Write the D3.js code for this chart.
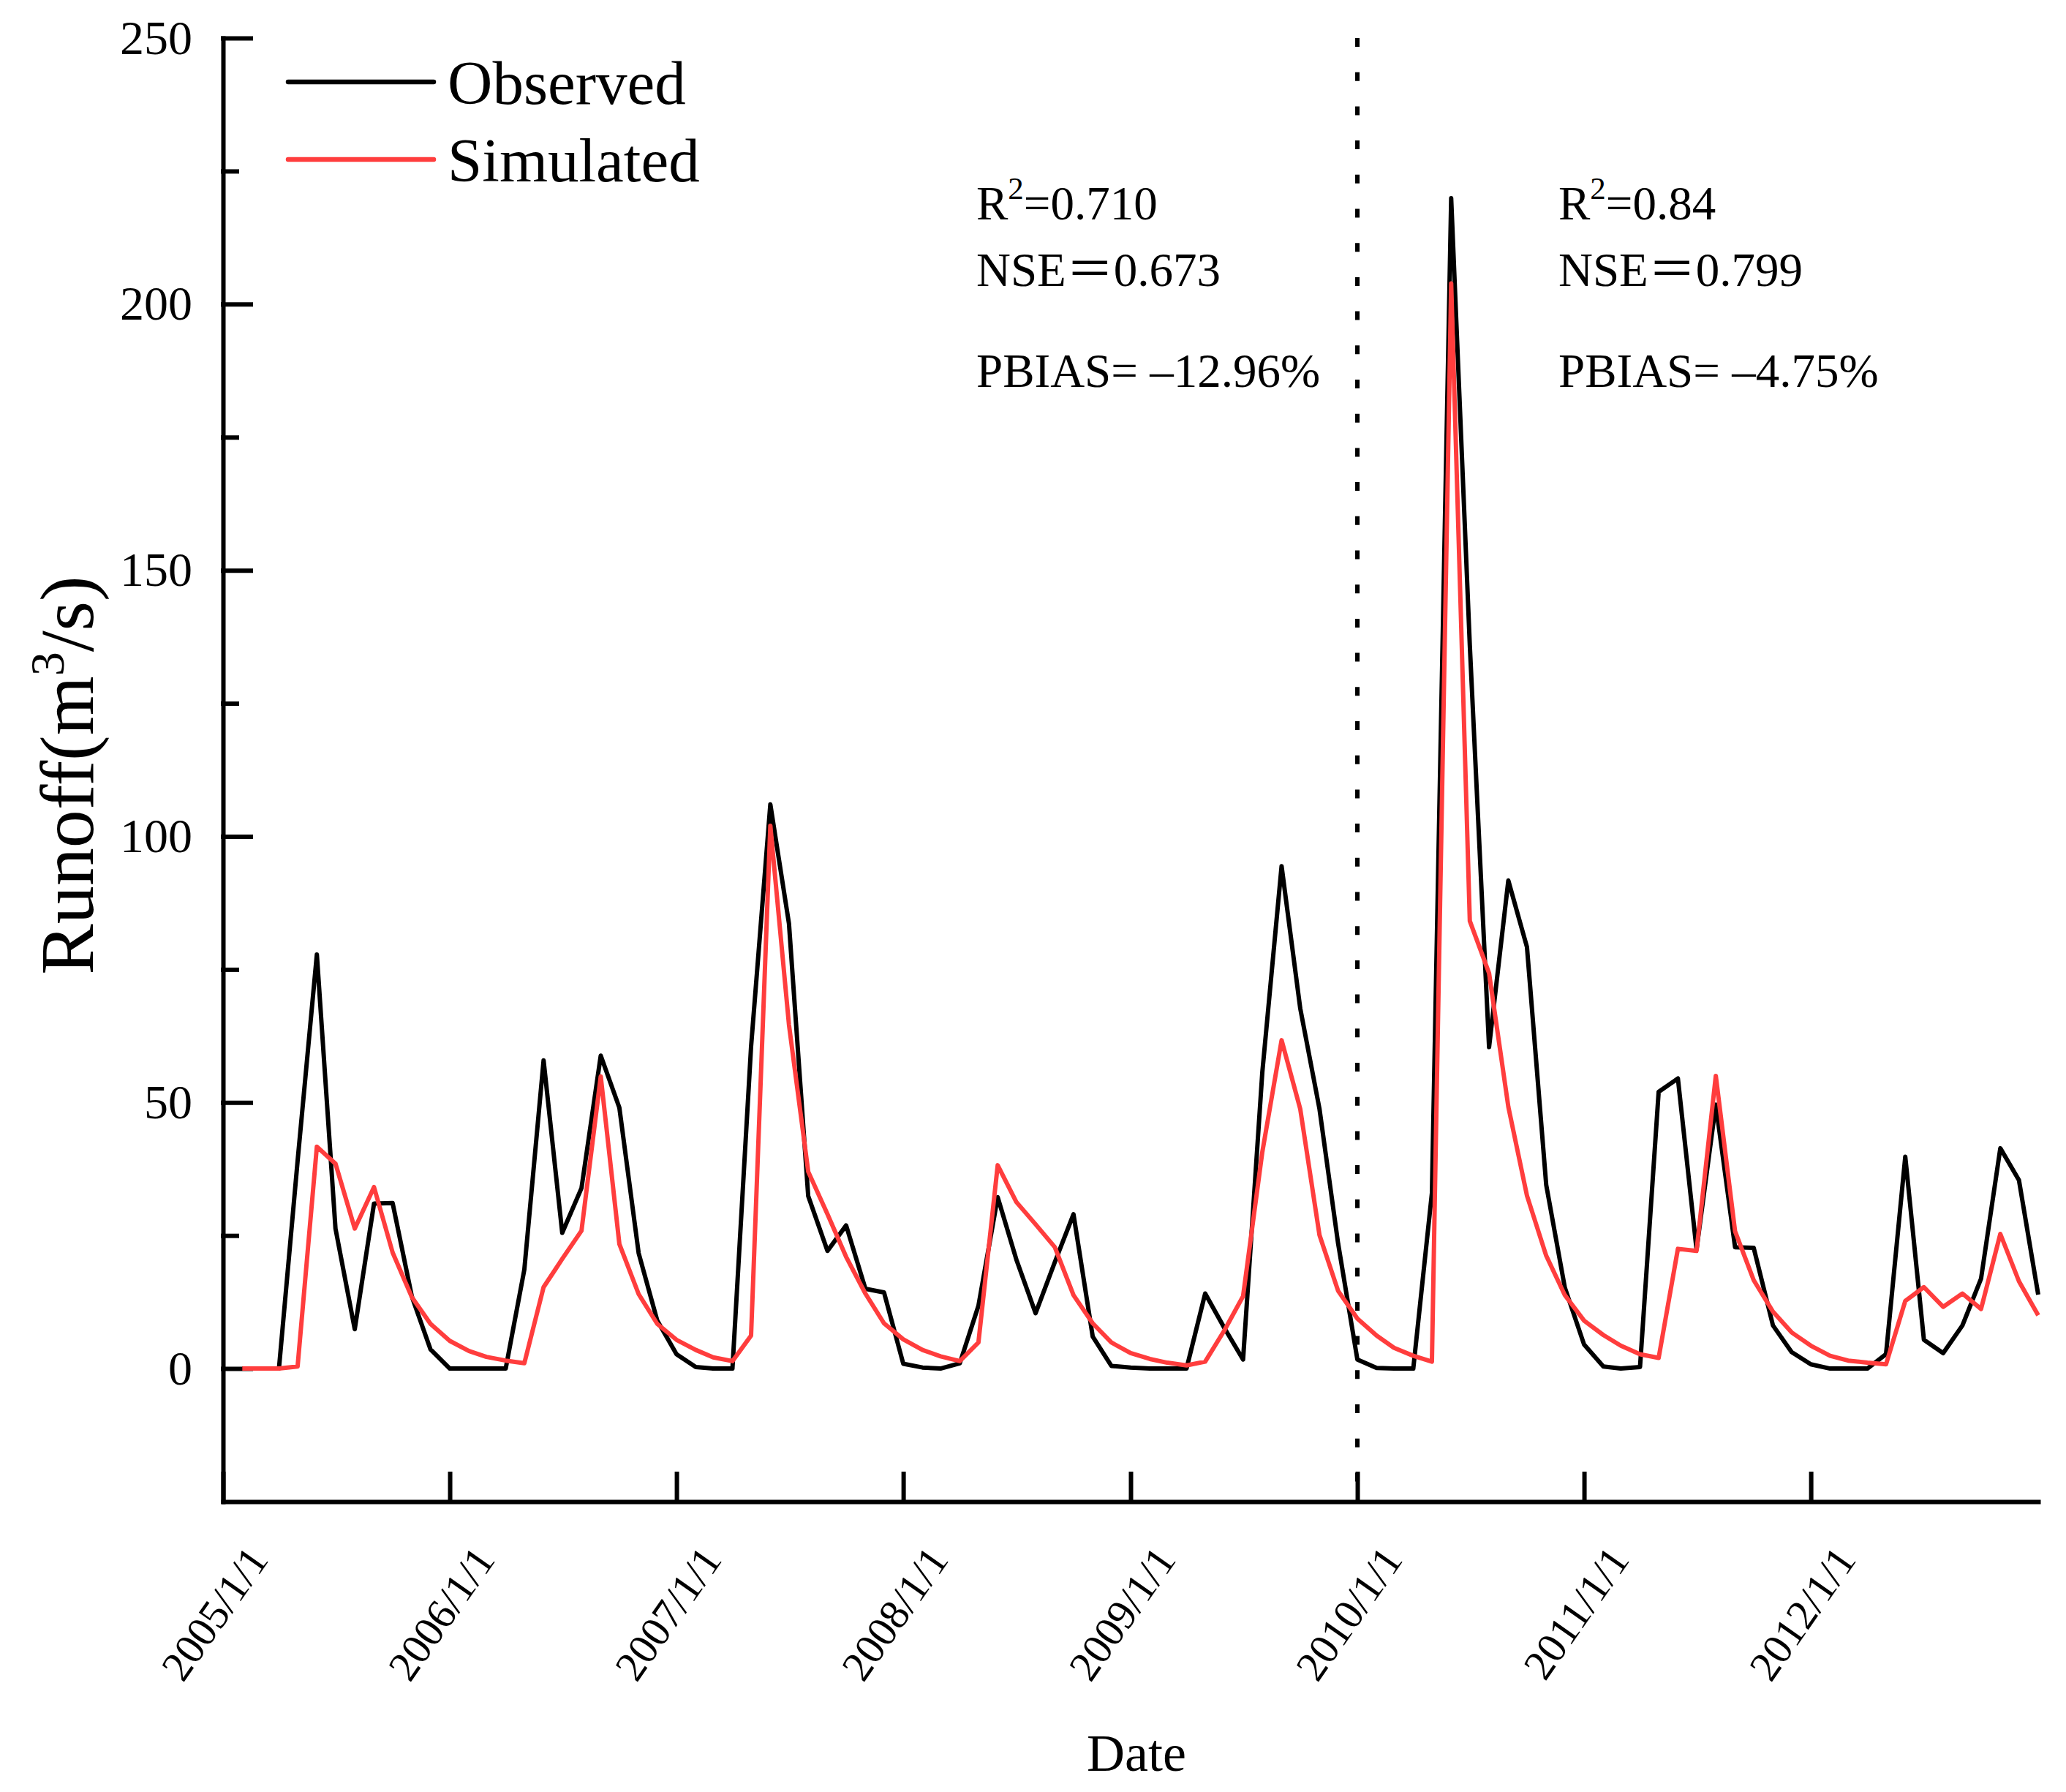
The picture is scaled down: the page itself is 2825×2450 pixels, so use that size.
<!DOCTYPE html>
<html>
<head>
<meta charset="utf-8">
<script src="https://cdn.jsdelivr.net/npm/d3@7"></script>
<style>
  body { margin: 0; background: #fff; }
  svg text { font-family: "Liberation Serif", "Times New Roman", "Noto Sans CJK SC", serif; fill: #000; }
</style>
</head>
<body>
<svg id="chart" width="2825" height="2450"></svg>
<script>
// monthly runoff, Jan 2005 .. Dec 2012 (m3/s)
const observed = [
    0, 0, 0, 39, 77.8, 26.3, 7.4, 31.0, 31.1, 13.5, 3.6, 0,
    0, 0, 0, 18.6, 57.9, 25.5, 33.9, 58.8, 49.0, 21.7, 9.0, 2.7,
    0.3, 0, 0, 60.5, 106.0, 83.6, 32.4, 22.1, 26.9, 15.0, 14.3, 0.9,
    0.2, 0, 1.0, 11.8, 32.2, 20.5, 10.4, 20.0, 29.0, 6.0, 0.5, 0.2,
    0, 0, 0, 14.1, 7.6, 1.7, 55.7, 94.4, 67.7, 48.8, 23.5, 1.7,
    0.1, 0, 0, 33.0, 219.9, 135.9, 60.4, 91.7, 79.2, 34.5, 15.2, 4.5,
    0.4, 0, 0.3, 52.0, 54.5, 22.4, 49.6, 22.8, 22.7, 8.1, 3.1, 0.8,
    0, 0, 0, 2.7, 39.8, 5.4, 2.9, 8.1, 16.9, 41.4, 35.4, 13.9
];
const simulated = [
    0, 0, 0, 0.4, 41.7, 38.5, 26.3, 34.1, 21.8, 13.4, 8.4, 5.2,
    3.3, 2.2, 1.5, 1.0, 15.3, 20.6, 25.9, 54.9, 23.4, 14.0, 8.4, 5.4,
    3.5, 2.1, 1.4, 6.2, 102.0, 64.6, 37.0, 29.0, 21.0, 14.1, 8.5, 5.5,
    3.5, 2.3, 1.4, 4.9, 38.2, 31.3, 27.1, 22.8, 13.8, 8.5, 4.9, 2.9,
    1.8, 1.1, 0.6, 1.3, 7.2, 13.6, 40.7, 61.7, 48.8, 25.1, 14.6, 9.4,
    6.2, 3.9, 2.4, 1.3, 203.9, 84.1, 74.3, 49.2, 32.5, 21.2, 13.8, 9.0,
    6.3, 4.3, 2.7, 2.0, 22.5, 22.1, 55.0, 25.8, 16.6, 10.7, 6.8, 4.3,
    2.4, 1.5, 1.1, 0.8, 12.7, 15.3, 11.6, 14.1, 11.2, 25.3, 16.4, 10.0
];
const yearLabels = ["2005/1/1", "2006/1/1", "2007/1/1", "2008/1/1", "2009/1/1", "2010/1/1", "2011/1/1", "2012/1/1"];
const splitLabel = "2010/1/1";
const yTicks = [0, 50, 100, 150, 200, 250];
const yMinorTicks = [25, 75, 125, 175, 225];
const seriesNames = ["Observed", "Simulated"];
const seriesColors = ["#000000", "#ff3d3d"];
const calStats = ["0.710", "0.673", "\u201312.96%"];
const valStats = ["0.84", "0.799", "\u20134.75%"];

let parseDay = d3.utcParse("%Y/%m/%d");
let yearDates = yearLabels.map(parseDay);
// each monthly value sits at the start of the following month
let dates = observed.map((d, i) => new Date(Date.UTC(2005, i + 1, 1)));

let svg = d3.select("#chart");
svg.append("rect").attr("width", 2825).attr("height", 2450).attr("fill", "#fff");

let margin = {top: 52, right: 38, bottom: 397, left: 305};
let width = 2825 - margin.left - margin.right;
let height = 2450 - margin.top - margin.bottom;
let g = svg.append("g").attr("transform", "translate(" + margin.left + "," + margin.top + ")");

let x = d3.scaleUtc()
    .domain([Date.UTC(2005, 0, 1), Date.UTC(2013, 0, 1)])
    .range([0, width]);

let y = d3.scaleLinear()
    .domain([-25, 250])
    .range([height, 0]);

// axes
let yAxis = g.append("g")
    .call(d3.axisLeft(y).tickValues(yTicks).tickSize(-38).tickSizeOuter(0).tickPadding(42));
yAxis.selectAll("text").attr("font-size", 66);

let yMinor = g.append("g")
    .call(d3.axisLeft(y).tickValues(yMinorTicks).tickSize(-19).tickFormat(""));
yMinor.select(".domain").remove();

let xAxis = g.append("g")
    .attr("transform", "translate(0," + height + ")")
    .call(d3.axisBottom(x).tickValues(yearDates).tickSize(-38).tickSizeOuter(0).tickFormat(""));

g.selectAll(".domain, .tick line")
    .attr("stroke", "#000")
    .attr("stroke-width", 6)
    .attr("stroke-linecap", "square");

g.selectAll(".xlab")
    .data(yearDates)
    .enter().append("text")
    .attr("class", "xlab")
    .attr("transform", d => "translate(" + (x(d) + 47) + "," + (height + 68) + ") rotate(-55)")
    .attr("text-anchor", "end")
    .attr("dy", "0.35em")
    .attr("font-size", 58)
    .text((d, i) => yearLabels[i]);

// series
let line = d3.line()
    .x((d, i) => x(dates[i]))
    .y(d => y(d));

[observed, simulated].forEach((s, k) => {
    g.append("path")
        .datum(s)
        .attr("fill", "none")
        .attr("stroke", seriesColors[k])
        .attr("stroke-width", 6)
        .attr("stroke-linejoin", "round")
        .attr("d", line);
});

// calibration / validation split
let sx = x(parseDay(splitLabel));
g.append("line")
    .attr("x1", sx).attr("x2", sx)
    .attr("y1", y(250)).attr("y2", y(-25))
    .attr("stroke", "#000")
    .attr("stroke-width", 6)
    .attr("stroke-dasharray", "12,34.7");

// statistics
function statBlock(x0, vals) {
    let t = svg.append("text").attr("x", x0).attr("y", 300).attr("font-size", 65);
    t.append("tspan").text("R");
    t.append("tspan").attr("font-size", 43).attr("dy", -28).text("2");
    t.append("tspan").attr("dy", 28).text("=" + vals[0]);
    svg.append("text").attr("x", x0).attr("y", 391).attr("font-size", 65).text("NSE\uFF1D" + vals[1]);
    svg.append("text").attr("x", x0).attr("y", 529).attr("font-size", 65).text("PBIAS= " + vals[2]);
}
statBlock(1335, calStats);
statBlock(2131, valStats);

// legend
let legend = svg.append("g")
    .selectAll("g")
    .data(seriesNames)
    .enter().append("g")
    .attr("transform", (d, i) => "translate(0," + (112 + i * 106) + ")");

legend.append("line")
    .attr("x1", 394).attr("x2", 593)
    .attr("stroke", (d, i) => seriesColors[i])
    .attr("stroke-width", 6.5)
    .attr("stroke-linecap", "round");

legend.append("text")
    .attr("x", 612)
    .attr("y", 30)
    .attr("font-size", 85)
    .text(d => d);

// axis titles
let yTitle = svg.append("text")
    .attr("transform", "translate(127,1060) rotate(-90)")
    .attr("text-anchor", "middle")
    .attr("font-size", 104);
yTitle.append("tspan").text("Runoff(m");
yTitle.append("tspan").attr("font-size", 66).attr("dy", -40).text("3");
yTitle.append("tspan").attr("dy", 40).text("/s)");

svg.append("text")
    .attr("x", 1554)
    .attr("y", 2421)
    .attr("text-anchor", "middle")
    .attr("font-size", 72)
    .text("Date");
</script>
</body>
</html>
